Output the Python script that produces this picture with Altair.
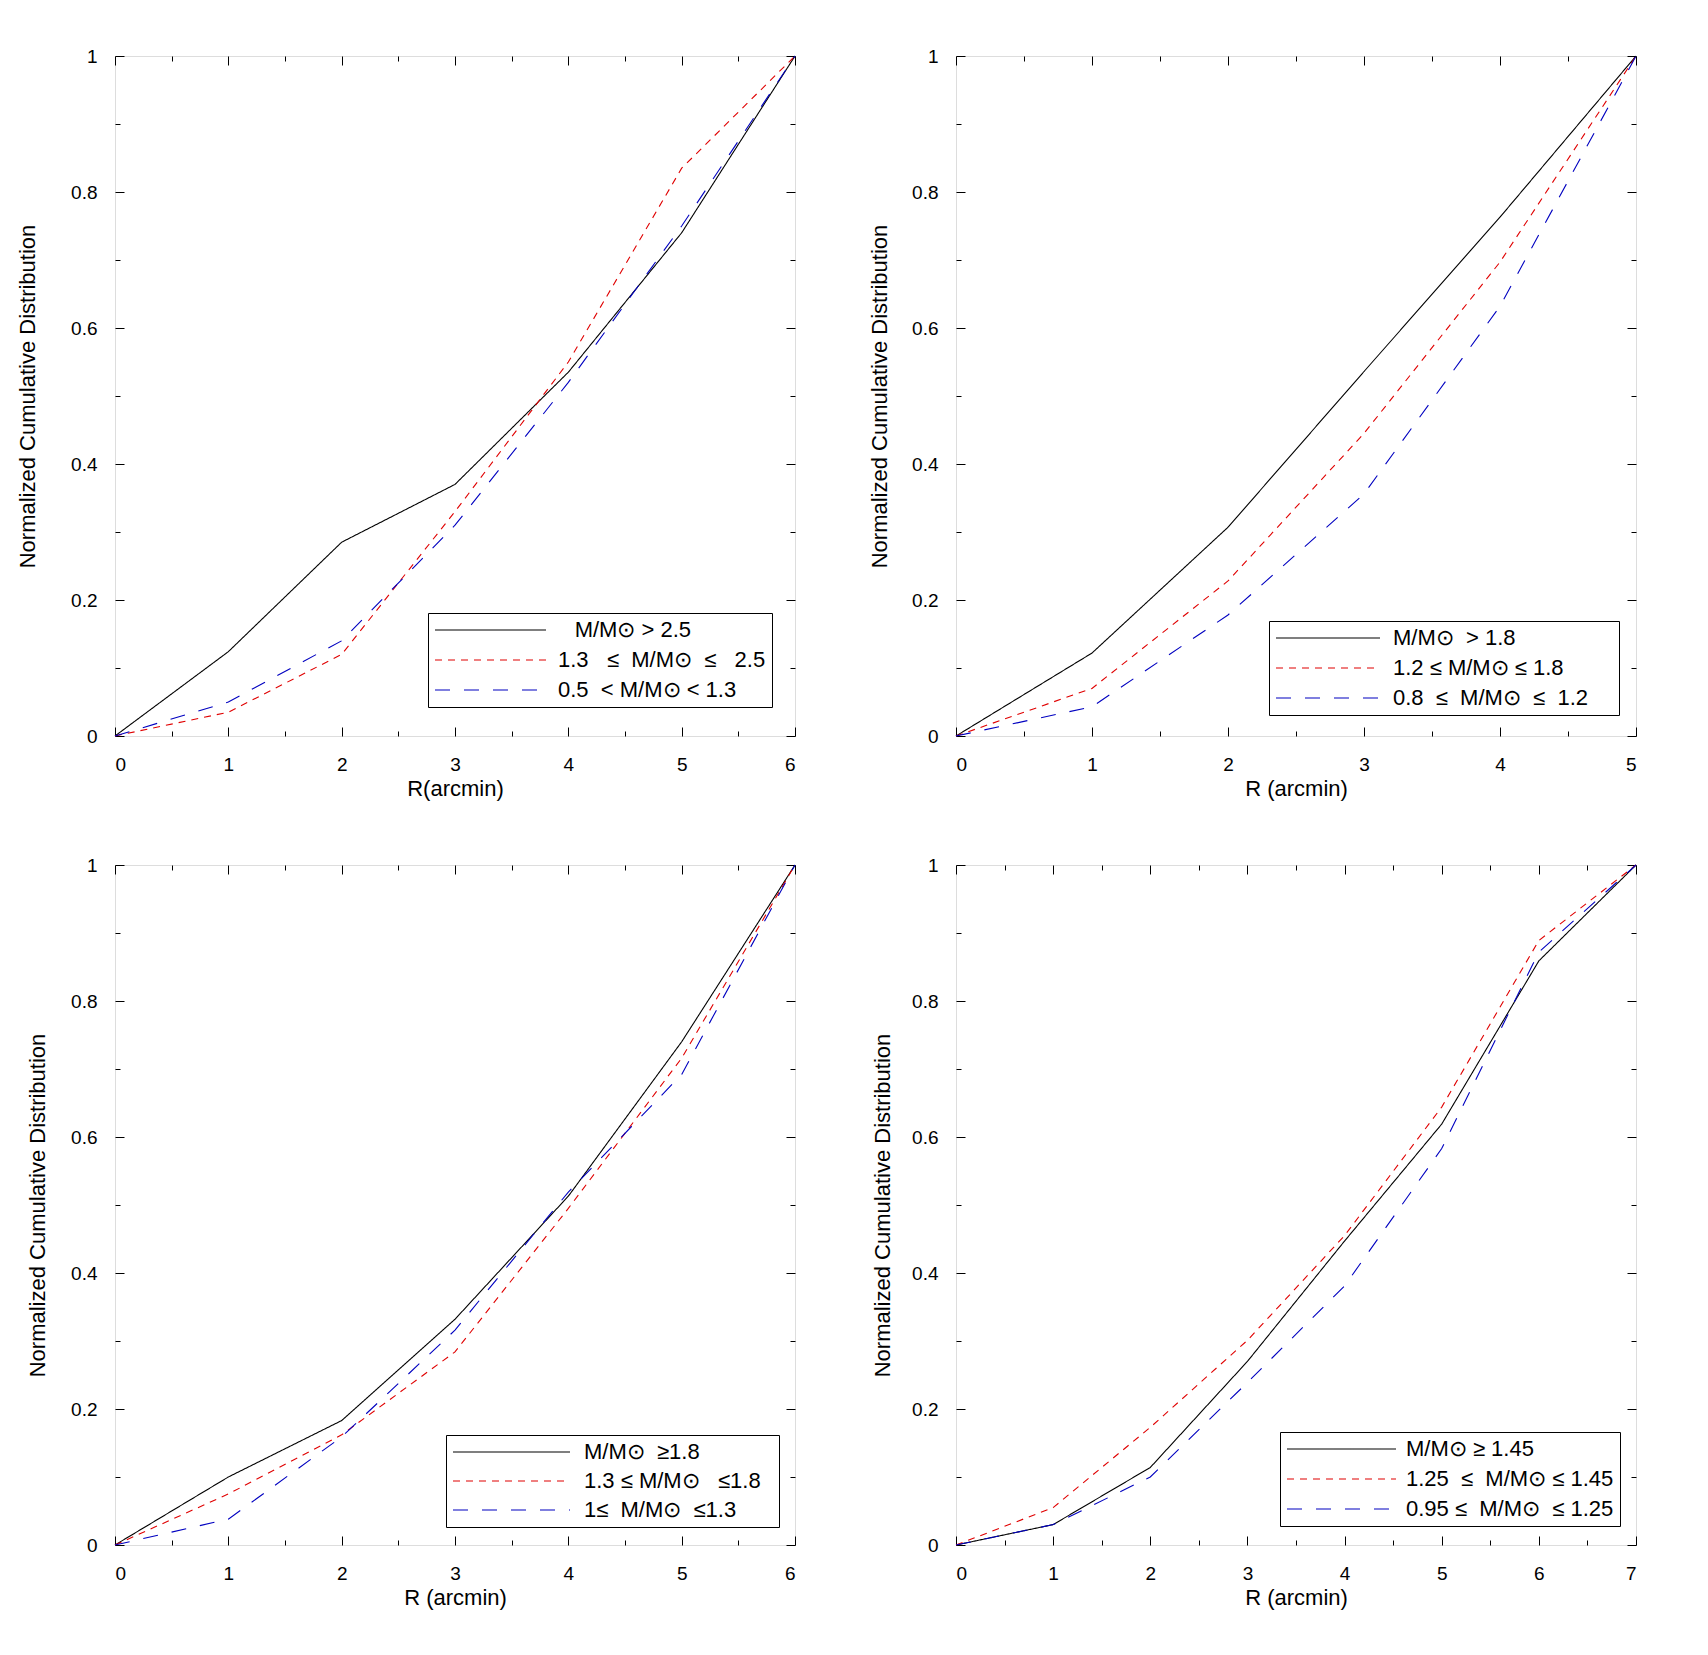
import altair as alt
import pandas as pd

FONT = "Liberation Sans"
SUN = "M/M\u2299"
S = "\u00a0"
Z = "\u200b"

# ---------------- data ----------------
P1_R = [0, 1, 2, 3, 4, 5, 6]
P1_HIGH = [0, 0.124, 0.285, 0.37, 0.535, 0.74, 1]
P1_MID = [0, 0.035, 0.12, 0.33, 0.55, 0.835, 1]
P1_LOW = [0, 0.05, 0.14, 0.31, 0.52, 0.75, 1]
P1_LABELS = [Z + S * 2 + "\u2009" + SUN + " > 2.5",
             "1.3" + S * 3 + "\u2264" + S * 2 + SUN + S * 2 + "\u2264" + S * 3 + "2.5",
             "0.5" + S * 2 + "< " + SUN + " < 1.3"]

P2_R = [0, 1, 2, 3, 4, 5]
P2_HIGH = [0, 0.122, 0.307, 0.536, 0.763, 1]
P2_MID = [0, 0.07, 0.228, 0.445, 0.697, 1]
P2_LOW = [0, 0.043, 0.178, 0.356, 0.632, 1]
P2_LABELS = [SUN + S * 2 + "> 1.8",
             "1.2 \u2264 " + SUN + " \u2264 1.8",
             "0.8" + S * 2 + "\u2264" + S * 2 + SUN + S * 2 + "\u2264" + S * 2 + "1.2" + S * 4 + Z]

P3_R = [0, 1, 2, 3, 4, 5, 6]
P3_HIGH = [0, 0.1, 0.183, 0.332, 0.513, 0.74, 1]
P3_MID = [0, 0.075, 0.162, 0.284, 0.495, 0.716, 1]
P3_LOW = [0, 0.038, 0.159, 0.316, 0.519, 0.692, 1]
P3_LABELS = [SUN + S * 2 + "\u22651.8",
             "1.3 \u2264 " + SUN + S * 3 + "\u22641.8" + S * 2 + Z,
             "1\u2264" + S * 2 + SUN + S * 2 + "\u22641.3"]

P4_R = [0, 1, 2, 3, 4, 5, 6, 7]
P4_HIGH = [0, 0.03, 0.114, 0.27, 0.447, 0.619, 0.859, 1]
P4_MID = [0, 0.055, 0.173, 0.301, 0.455, 0.644, 0.889, 1]
P4_LOW = [0, 0.03, 0.1, 0.239, 0.381, 0.583, 0.872, 1]
P4_LABELS = [SUN + " \u2265 1.45",
             "1.25" + S * 2 + "\u2264" + S * 2 + SUN + " \u2264 1.45",
             "0.95 \u2264" + S * 2 + SUN + S * 2 + "\u2264 1.25"]

X_TITLES = ["R(arcmin)", "R (arcmin)", "R (arcmin)", "R (arcmin)"]
Y_TITLE = "Normalized Cumulative Distribution"
Y_LABELS = [0, 0.2, 0.4, 0.6, 0.8, 1]
Y_TICKS = [0, 0.1, 0.2, 0.3, 0.4, 0.5, 0.6, 0.7, 0.8, 0.9, 1]

COLORS = ["black", "#e00000", "#0000c0"]
DASHES = [[1, 0], [7, 6], [15, 14]]

W = 680
H = 680


def build(r, hi, mid, lo, labels):
    rows = []
    for lab, ys in zip(labels, [hi, mid, lo]):
        for x, y in zip(r, ys):
            rows.append({"R": x, "F": y, "grp": lab})
    return pd.DataFrame(rows)


X_MAJOR = {"condition": {"test": "abs(datum.value - round(datum.value)) < 0.001", "value": 9}, "value": 5}
Y_MAJOR = {"condition": {"test": "abs(datum.value * 5 - round(datum.value * 5)) < 0.001", "value": 9}, "value": 5}


def panel(df, xmax, labels, xtitle, lx, ly, title_pad, sym_len, lab_off, row_pad):
    xticks = [i * 0.5 for i in range(2 * xmax + 1)]
    xscale = alt.Scale(domain=[0, xmax], nice=False, zero=False)
    yscale = alt.Scale(domain=[0, 1], nice=False, zero=False)
    legend = alt.Legend(
        title=None, orient="none", legendX=lx, legendY=ly,
        strokeColor="black", fillColor="white", padding=6,
        symbolType="M-1,0H%.2f" % (sym_len / 10.0 - 1), symbolSize=400,
        symbolStrokeWidth=1.2, symbolFillColor="transparent",
        labelFont=FONT, labelFontSize=22, labelColor="black", labelLimit=0,
        labelOffset=lab_off, rowPadding=row_pad,
    )
    lines = alt.Chart(df).mark_line(strokeWidth=1.1).encode(
        x=alt.X("R:Q", scale=xscale,
                axis=alt.Axis(orient="bottom", values=list(range(xmax + 1)), format="d",
                              ticks=False, domain=False, grid=False,
                              labelFont=FONT, labelFontSize=19, labelColor="black",
                              labelPadding=19, title=xtitle, titleFont=FONT,
                              titleFontSize=22, titleFontWeight="normal",
                              titleColor="black", titlePadding=4)),
        y=alt.Y("F:Q", scale=yscale,
                axis=alt.Axis(orient="left", values=Y_LABELS, format="~g",
                              ticks=False, domain=False, grid=False,
                              labelFont=FONT, labelFontSize=19, labelColor="black",
                              labelPadding=18, title=Y_TITLE, titleFont=FONT,
                              titleFontSize=22, titleFontWeight="normal",
                              titleColor="black", titlePadding=title_pad)),
        color=alt.Color("grp:N", scale=alt.Scale(domain=labels, range=COLORS),
                        legend=legend),
        strokeDash=alt.StrokeDash("grp:N", scale=alt.Scale(domain=labels, range=DASHES),
                                  legend=legend),
        order=alt.Order("R:Q"),
    )
    # inward ticks on bottom and left edges
    t1 = alt.Chart(df).mark_line(strokeOpacity=0).encode(
        x=alt.X("R:Q", scale=xscale,
                axis=alt.Axis(orient="top", offset=-H, values=xticks, labels=False,
                              domain=False, grid=False, title=None,
                              tickColor="black", tickWidth=1, tickSize=X_MAJOR)),
        y=alt.Y("F:Q", scale=yscale,
                axis=alt.Axis(orient="right", offset=-W, values=Y_TICKS, labels=False,
                              domain=False, grid=False, title=None,
                              tickColor="black", tickWidth=1, tickSize=Y_MAJOR)),
    )
    # inward ticks on top and right edges
    t2 = alt.Chart(df).mark_line(strokeOpacity=0).encode(
        x=alt.X("R:Q", scale=xscale,
                axis=alt.Axis(orient="bottom", offset=-H, values=xticks, labels=False,
                              domain=False, grid=False, title=None,
                              tickColor="black", tickWidth=1, tickSize=X_MAJOR)),
        y=alt.Y("F:Q", scale=yscale,
                axis=alt.Axis(orient="left", offset=-W, values=Y_TICKS, labels=False,
                              domain=False, grid=False, title=None,
                              tickColor="black", tickWidth=1, tickSize=Y_MAJOR)),
    )
    return alt.layer(lines, t1, t2).resolve_axis(x="independent", y="independent").properties(
        width=W, height=H)


p1 = panel(build(P1_R, P1_HIGH, P1_MID, P1_LOW, P1_LABELS), 6, P1_LABELS, X_TITLES[0],
           313, 557, 31, 111, 102, 8)
p2 = panel(build(P2_R, P2_HIGH, P2_MID, P2_LOW, P2_LABELS), 5, P2_LABELS, X_TITLES[1],
           313, 565, 20, 104, 96, 8)
p3 = panel(build(P3_R, P3_HIGH, P3_MID, P3_LOW, P3_LABELS), 6, P3_LABELS, X_TITLES[2],
           331, 570, 21, 117, 110, 7)
p4 = panel(build(P4_R, P4_HIGH, P4_MID, P4_LOW, P4_LABELS), 7, P4_LABELS, X_TITLES[3],
           324, 567, 17, 109, 98, 8)

chart = alt.concat(
    p1, p2, p3, p4, columns=2, spacing={"row": 129, "column": 161}, bounds="flush"
).resolve_scale(color="independent", strokeDash="independent").configure_view(
    stroke="black", strokeWidth=1
).configure(
    background="white", padding={"left": 8, "top": 38, "right": 5, "bottom": 5}
)

chart.save("out.html", embed_options={"renderer": "svg", "actions": False})
